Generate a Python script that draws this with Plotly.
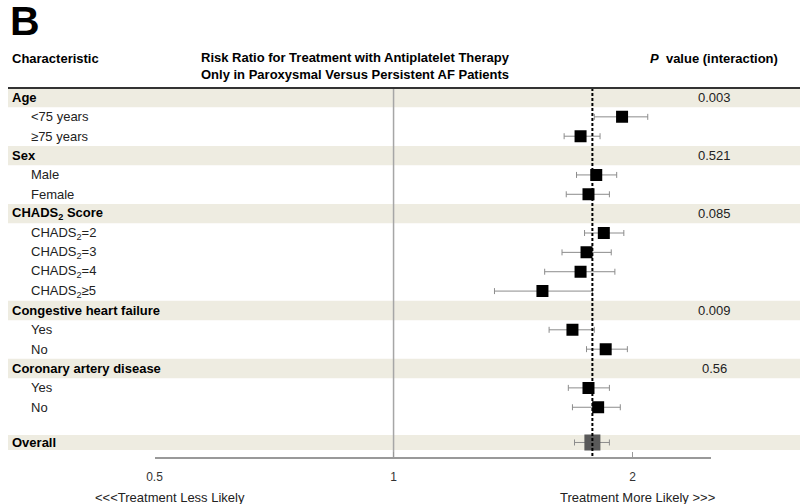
import math
import plotly.graph_objects as go

# rows of the forest plot (header rows carry the p value of the interaction)
row_labels = ["Age", "<75 years", "≥75 years",
              "Sex", "Male", "Female",
              "CHADS<sub>2</sub> Score", "CHADS<sub>2</sub>=2", "CHADS<sub>2</sub>=3",
              "CHADS<sub>2</sub>=4", "CHADS<sub>2</sub>≥5",
              "Congestive heart failure", "Yes", "No",
              "Coronary artery disease", "Yes", "No"]
is_header = [1, 0, 0, 1, 0, 0, 1, 0, 0, 0, 0, 1, 0, 0, 1, 0, 0]
p_values = ["0.003", "", "", "0.521", "", "", "0.085", "", "", "", "",
            "0.009", "", "", "0.56", "", ""]

# risk ratio and 95% CI (None for header rows)
rr = [None, 1.94, 1.72, None, 1.80, 1.76, None, 1.84, 1.75, 1.72, 1.54,
      None, 1.68, 1.85, None, 1.76, 1.81]
ci_low = [None, 1.79, 1.64, None, 1.70, 1.65, None, 1.74, 1.63, 1.55, 1.34,
          None, 1.57, 1.75, None, 1.66, 1.68]
ci_high = [None, 2.09, 1.82, None, 1.91, 1.87, None, 1.95, 1.88, 1.90, 1.78,
           None, 1.79, 1.97, None, 1.87, 1.93]

overall_rr = 1.78
overall_low = 1.69
overall_high = 1.87

x_ticks = [0.5, 1, 2]
x_min, x_max = 0.5, 2.51

FONT = "Arial, Liberation Sans, sans-serif"
BAND = "#EEECE1"
W, H = 800, 504


def px_x(p):
    return p / W


def px_y(p):
    return 1 - p / H


# row positions (row units, reversed axis)
row_pos = list(range(len(row_labels)))
overall_pos = len(row_labels) + 0.82
y_top, y_bottom = -0.49, 18.57

fig = go.Figure()

# subgroup estimates
sub_y = [row_pos[i] for i in range(len(rr)) if rr[i] is not None]
sub_rr = [v for v in rr if v is not None]
sub_plus = [h - r for r, h in zip(rr, ci_high) if r is not None]
sub_minus = [r - l for r, l in zip(rr, ci_low) if r is not None]

fig.add_trace(go.Scatter(
    x=sub_rr, y=sub_y, mode="markers",
    marker=dict(symbol="square", size=12, color="black"),
    error_x=dict(type="data", symmetric=False, array=sub_plus, arrayminus=sub_minus,
                 color="#8c8c8c", thickness=1, width=3),
    showlegend=False, hoverinfo="skip",
))

# overall estimate
fig.add_trace(go.Scatter(
    x=[overall_rr], y=[overall_pos], mode="markers",
    marker=dict(symbol="square", size=16, color="#595959"),
    error_x=dict(type="data", symmetric=False, array=[overall_high - overall_rr],
                 arrayminus=[overall_rr - overall_low],
                 color="#8c8c8c", thickness=1, width=3),
    showlegend=False, hoverinfo="skip",
))

shapes = []
# shaded header bands
for i, h in enumerate(is_header):
    if h:
        shapes.append(dict(type="rect", xref="paper", yref="y", x0=0, x1=1,
                           y0=row_pos[i] - 0.5, y1=row_pos[i] + 0.5,
                           fillcolor=BAND, line_width=0, layer="below"))
shapes.append(dict(type="rect", xref="paper", yref="y", x0=0, x1=1,
                   y0=overall_pos - 0.39, y1=overall_pos + 0.39,
                   fillcolor=BAND, line_width=0, layer="below"))

# line of no effect
shapes.append(dict(type="line", xref="x", yref="y", x0=1, x1=1, y0=y_top, y1=y_bottom,
                   line=dict(color="#a6a6a6", width=1.5), layer="below"))
# overall estimate reference line
shapes.append(dict(type="line", xref="x", yref="y", x0=overall_rr, x1=overall_rr,
                   y0=y_top, y1=y_bottom,
                   line=dict(color="black", width=2, dash="3px,2px")))
# top rule
shapes.append(dict(type="line", xref="paper", yref="paper", x0=0, x1=1,
                   y0=px_y(88), y1=px_y(88), line=dict(color="#333333", width=2)))

annotations = []
for i, lab in enumerate(row_labels):
    if is_header[i]:
        annotations.append(dict(text="<b>" + lab + "</b>", x=px_x(2), y=row_pos[i],
                                xref="paper", yref="y", xanchor="left", yanchor="middle",
                                showarrow=False, font=dict(family=FONT, size=13, color="black")))
    else:
        annotations.append(dict(text=lab, x=px_x(21), y=row_pos[i],
                                xref="paper", yref="y", xanchor="left", yanchor="middle",
                                showarrow=False, font=dict(family=FONT, size=13, color="#222222")))
    if p_values[i]:
        annotations.append(dict(text=p_values[i], x=px_x(714), y=row_pos[i],
                                xref="paper", yref="y", xanchor="center", yanchor="middle",
                                showarrow=False, font=dict(family=FONT, size=13, color="#222222")))

annotations.append(dict(text="<b>Overall</b>", x=px_x(2), y=overall_pos,
                        xref="paper", yref="y", xanchor="left", yanchor="middle",
                        showarrow=False, font=dict(family=FONT, size=13, color="black")))

# headers
annotations += [
    dict(text="<b>B</b>", x=0, y=px_y(21), xref="paper", yref="paper",
         xanchor="left", yanchor="middle", showarrow=False,
         font=dict(family=FONT, size=41, color="black")),
    dict(text="<b>Characteristic</b>", x=px_x(2), y=px_y(58), xref="paper", yref="paper",
         xanchor="left", yanchor="middle", showarrow=False,
         font=dict(family=FONT, size=13, color="black")),
    dict(text="<b>Risk Ratio for Treatment with Antiplatelet Therapy<br>"
              "Only in Paroxysmal Versus Persistent AF Patients</b>",
         x=px_x(193), y=px_y(66), xref="paper", yref="paper", align="left",
         xanchor="left", yanchor="middle", showarrow=False,
         font=dict(family=FONT, size=13, color="black")),
    dict(text="<b><i>P</i>  value (interaction)</b>", x=px_x(780), y=px_y(58),
         xref="paper", yref="paper", xanchor="right", yanchor="middle", showarrow=False,
         font=dict(family=FONT, size=13, color="black")),
    dict(text="<<<Treatment Less Likely", x=px_x(164), y=px_y(497),
         xref="paper", yref="paper", xanchor="center", yanchor="middle", showarrow=False,
         font=dict(family=FONT, size=13, color="#222222")),
    dict(text="Treatment More Likely >>>", x=px_x(636), y=px_y(497),
         xref="paper", yref="paper", xanchor="center", yanchor="middle", showarrow=False,
         font=dict(family=FONT, size=13, color="#222222")),
]

fig.update_layout(
    width=W, height=H, autosize=False,
    margin=dict(l=0, r=0, t=0, b=0),
    paper_bgcolor="white", plot_bgcolor="rgba(0,0,0,0)",
    shapes=shapes, annotations=annotations,
    xaxis=dict(type="log", domain=[px_x(148), px_x(710)],
               range=[math.log10(x_min), math.log10(x_max)],
               tickvals=x_ticks, ticktext=[str(t) for t in x_ticks],
               ticks="inside", ticklen=5, tickcolor="#999999",
               showline=True, linecolor="#999999", linewidth=1.5,
               showgrid=False, zeroline=False, ticklabelstandoff=8,
               tickfont=dict(family=FONT, size=12, color="#333333")),
    yaxis=dict(domain=[px_y(457), px_y(88)], range=[y_bottom, y_top],
               visible=False, showgrid=False, zeroline=False),
)

# the page's default body margin would shift the figure by 8px
fig.write_html("out.html",
               config={"displayModeBar": False, "responsive": False},
               post_script="document.body.style.margin='0';"
                           "document.body.style.overflow='hidden';")
